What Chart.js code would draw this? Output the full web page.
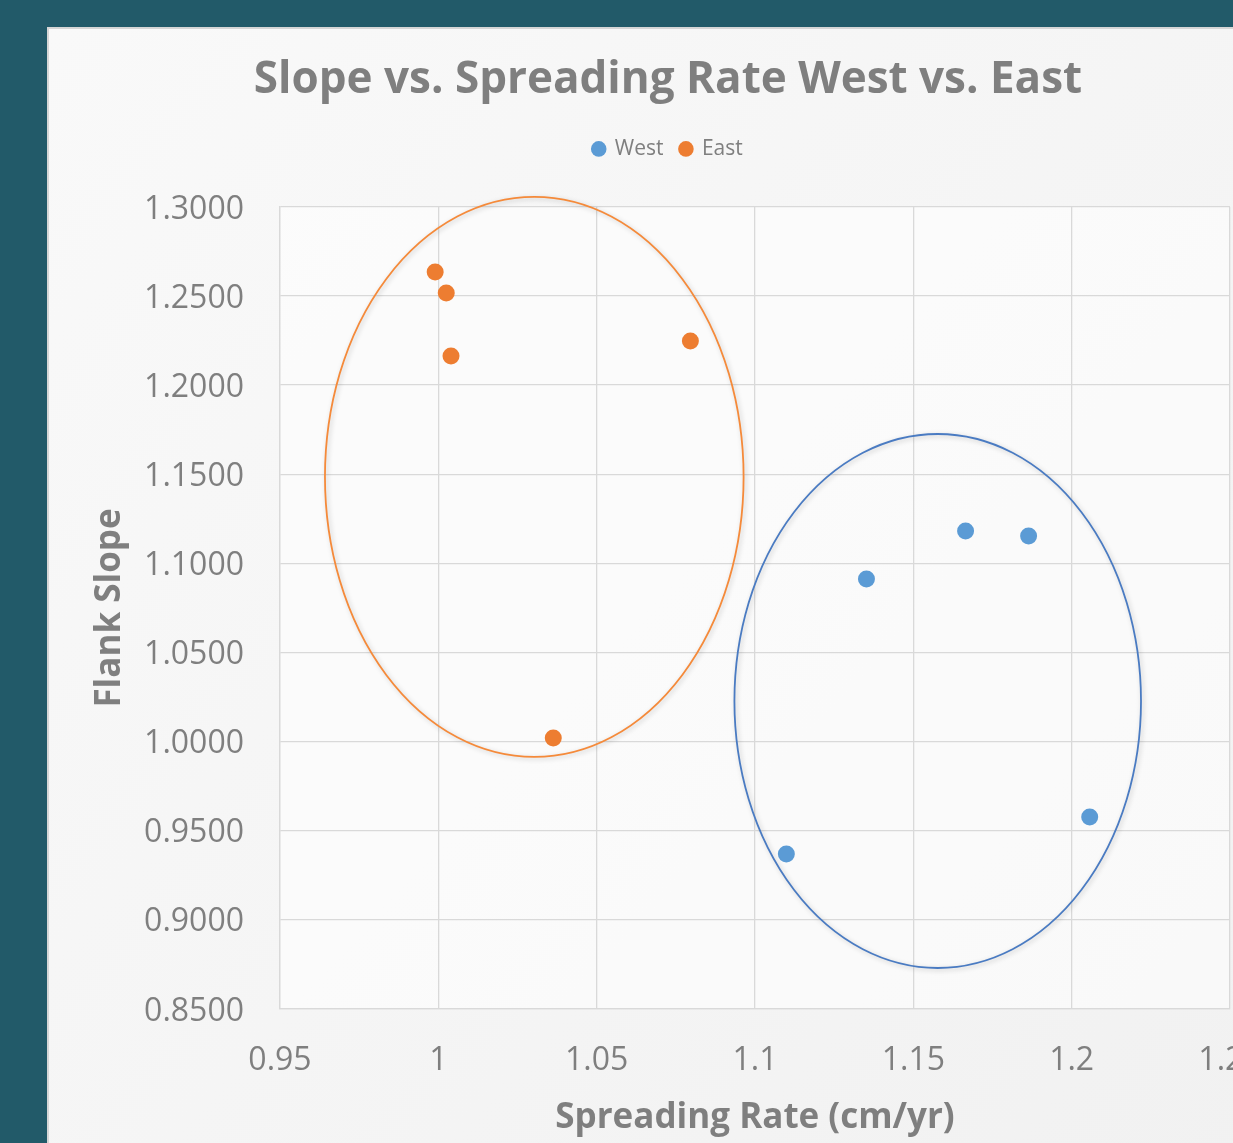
<!DOCTYPE html>
<html>
<head>
<meta charset="utf-8">
<script src="https://cdn.jsdelivr.net/npm/chart.js@4.4.1/dist/chart.umd.min.js"></script>
<style>
  html, body { margin: 0; padding: 0; width: 1233px; height: 1143px; overflow: hidden; background: #225a69; }
  #wrap { position: absolute; left: 47px; top: 27px; width: 1242px; height: 1116px; }
  canvas { display: block; }
</style>
</head>
<body>
<div id="wrap"><canvas id="chart" width="1242" height="1116"></canvas></div>
<script>
// Spreading rate (cm/yr) and flank slope for each ridge flank
const westRate  = [1.1099, 1.1352, 1.1665, 1.1864, 1.2057];
const westSlope = [0.9369, 1.0912, 1.1182, 1.1154, 0.9577];
const eastRate  = [0.9990, 1.0025, 1.0040, 1.0796, 1.0363];
const eastSlope = [1.2635, 1.2517, 1.2164, 1.2248, 1.0020];

// Group outlines in data units: [centerRate, centerSlope, radiusRate, radiusSlope]
const eastGroup = [1.0303, 1.1485, 0.0661, 0.1571];
const westGroup = [1.1577, 1.0228, 0.0642, 0.1498];

const xTicks = [0.95, 1.0, 1.05, 1.1, 1.15, 1.2, 1.25];
const yTicks = [0.85, 0.9, 0.95, 1.0, 1.05, 1.1, 1.15, 1.2, 1.25, 1.3];

const GRAY = '#7f7f7f';
const FONT = '"Open Sans", "DejaVu Sans", sans-serif';

const toPoints = (xs, ys) => xs.map((x, i) => ({ x, y: ys[i] }));

const panelBackground = {
  id: 'panelBackground',
  beforeDraw(chart) {
    const { ctx, width, height } = chart;
    ctx.save();
    const g = ctx.createLinearGradient(0, 0, width, height);
    g.addColorStop(0, '#f9f9f9');
    g.addColorStop(1, '#f1f1f1');
    ctx.fillStyle = g;
    ctx.fillRect(0, 0, width, height);
    ctx.fillStyle = '#d6d6d6';
    ctx.fillRect(0, 0, width, 2);
    ctx.fillRect(0, 0, 2, height);
    const a = chart.chartArea;
    ctx.fillStyle = 'rgba(255,255,255,0.55)';
    ctx.fillRect(a.left, a.top, a.right - a.left, a.bottom - a.top);
    ctx.restore();
  }
};

const groupOutlines = {
  id: 'groupOutlines',
  afterDatasetsDraw(chart) {
    const { ctx, scales: { x, y } } = chart;
    const draw = (grp, color) => {
      const cx = x.getPixelForValue(grp[0]);
      const cy = y.getPixelForValue(grp[1]);
      const rx = Math.abs(x.getPixelForValue(grp[0] + grp[2]) - cx);
      const ry = Math.abs(y.getPixelForValue(grp[1] + grp[3]) - cy);
      ctx.save();
      ctx.shadowColor = 'rgba(0,0,0,0.22)';
      ctx.shadowBlur = 5;
      ctx.shadowOffsetX = 1.5;
      ctx.shadowOffsetY = 1.5;
      ctx.strokeStyle = color;
      ctx.lineWidth = 1.8;
      ctx.beginPath();
      ctx.ellipse(cx, cy, rx, ry, 0, 0, Math.PI * 2);
      ctx.stroke();
      ctx.restore();
    };
    draw(eastGroup, '#f58a3a');
    draw(westGroup, '#4a7bc2');
  }
};

new Chart(document.getElementById('chart'), {
  type: 'scatter',
  data: {
    datasets: [
      {
        label: 'West',
        data: toPoints(westRate, westSlope),
        backgroundColor: '#5b9bd5',
        borderWidth: 0,
        pointRadius: 8.5,
        pointHoverRadius: 8.5
      },
      {
        label: 'East',
        data: toPoints(eastRate, eastSlope),
        backgroundColor: '#ed7d31',
        borderWidth: 0,
        pointRadius: 8.5,
        pointHoverRadius: 8.5
      }
    ]
  },
  options: {
    responsive: false,
    animation: false,
    events: [],
    layout: { padding: { top: 0, left: 59, right: 59, bottom: 0 } },
    plugins: {
      tooltip: { enabled: false },
      title: {
        display: true,
        text: 'Slope vs. Spreading Rate West vs. East',
        color: GRAY,
        font: { family: FONT, size: 44, weight: 'bold', lineHeight: 1.2 },
        padding: { top: 26.6, bottom: 15 }
      },
      legend: {
        display: true,
        position: 'top',
        labels: {
          color: GRAY,
          font: { family: FONT, size: 21 },
          usePointStyle: true,
          pointStyle: 'circle',
          boxWidth: 11,
          boxHeight: 11,
          padding: 17
        }
      },
      // spacer between the legend row and the plot area
      subtitle: {
        display: true,
        text: '',
        weight: 500,
        font: { size: 10, lineHeight: 1 },
        padding: { top: 0, bottom: 27.5 }
      }
    },
    scales: {
      x: {
        type: 'linear',
        min: xTicks[0],
        max: xTicks[xTicks.length - 1],
        afterBuildTicks(scale) { scale.ticks = xTicks.map(v => ({ value: v })); },
        afterFit(scale) { scale.height = 134; scale.paddingLeft = 0; scale.paddingRight = 0; },
        grid: { color: '#d9d9d9', lineWidth: 1.3, drawTicks: false },
        border: { color: '#d9d9d9', width: 1.3 },
        ticks: {
          color: GRAY,
          font: { family: FONT, size: 32 },
          padding: 33,
          maxRotation: 0,
          autoSkip: false,
          callback: v => String(parseFloat(Number(v).toFixed(2)))
        },
        title: {
          display: true,
          text: 'Spreading Rate (cm/yr)',
          color: GRAY,
          font: { family: FONT, size: 35, weight: 'bold', lineHeight: 1.2 },
          padding: { top: 0, bottom: 4 }
        }
      },
      y: {
        type: 'linear',
        min: yTicks[0],
        max: yTicks[yTicks.length - 1],
        afterBuildTicks(scale) { scale.ticks = yTicks.map(v => ({ value: v })); },
        afterFit(scale) { scale.width = 174; },
        grid: { color: '#d9d9d9', lineWidth: 1.3, drawTicks: false },
        border: { color: '#d9d9d9', width: 1.3 },
        ticks: {
          color: GRAY,
          font: { family: FONT, size: 32 },
          padding: 36,
          labelOffset: 2.5,
          autoSkip: false,
          callback: v => Number(v).toFixed(4)
        },
        title: {
          display: true,
          text: 'Flank Slope',
          color: GRAY,
          font: { family: FONT, size: 35, weight: 'bold', lineHeight: 1.2 },
          padding: { top: -17, bottom: 0 }
        }
      }
    }
  },
  plugins: [panelBackground, groupOutlines]
});
</script>
</body>
</html>
